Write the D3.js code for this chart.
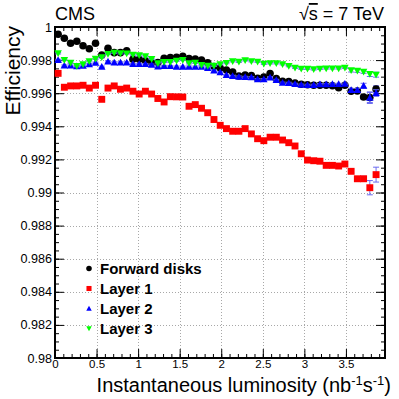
<!DOCTYPE html>
<html><head><meta charset="utf-8">
<script src="https://d3js.org/d3.v7.min.js"></script>
<style>body{margin:0;background:#fff}svg{display:block;font-family:"Liberation Sans",Arial,Helvetica,sans-serif}</style>
</head><body><svg id="c" width="399" height="399"></svg>
<script>
// ---- data ----
const binCenters = [0.0375,0.1125,0.1875,0.2625,0.3375,0.4125,0.4875,0.5625,0.6375,0.7125,0.7875,0.8625,0.9375,1.0125,1.0875,1.1625,1.2375,1.3125,1.3875,1.4625,1.5375,1.6125,1.6875,1.7625,1.8375,1.9125,1.9875,2.0625,2.1375,2.2125,2.2875,2.3625,2.4375,2.5125,2.5875,2.6625,2.7375,2.8125,2.8875,2.9625,3.0375,3.1125,3.1875,3.2625,3.3375,3.4125,3.4875,3.5625,3.6375,3.7125,3.7875,3.8625];
const forwardDisks = [0.99956,0.99932,0.99902,0.99914,0.99887,0.99869,0.99902,0.99831,0.99871,0.99845,0.99845,0.99857,0.99805,0.99805,0.99796,0.99784,0.99785,0.99811,0.99815,0.99817,0.99823,0.99810,0.99807,0.99801,0.99784,0.99761,0.99752,0.99740,0.99728,0.99704,0.99710,0.99706,0.99690,0.99698,0.99719,0.99688,0.99672,0.99670,0.99662,0.99654,0.99651,0.99648,0.99648,0.99648,0.99645,0.99633,0.99648,0.99612,0.99613,0.99577,0.99574,0.99625];
const layer1 = [0.99720,0.99636,0.99644,0.99644,0.99648,0.99631,0.99648,0.99563,0.99631,0.99644,0.99624,0.99631,0.99612,0.99595,0.99612,0.99595,0.99568,0.99547,0.99579,0.99578,0.99577,0.99521,0.99531,0.99509,0.99482,0.99441,0.99406,0.99386,0.99370,0.99370,0.99386,0.99354,0.99325,0.99313,0.99334,0.99334,0.99317,0.99301,0.99281,0.99234,0.99196,0.99192,0.99189,0.99164,0.99164,0.99160,0.99172,0.99128,0.99083,0.99083,0.99029,0.99108];
const layer2 = [0.99801,0.99767,0.99767,0.99763,0.99766,0.99775,0.99784,0.99760,0.99792,0.99786,0.99786,0.99786,0.99776,0.99776,0.99776,0.99772,0.99761,0.99764,0.99764,0.99760,0.99760,0.99760,0.99760,0.99760,0.99752,0.99737,0.99726,0.99710,0.99704,0.99700,0.99698,0.99696,0.99684,0.99684,0.99695,0.99680,0.99663,0.99662,0.99656,0.99651,0.99650,0.99650,0.99654,0.99654,0.99656,0.99656,0.99657,0.99619,0.99619,0.99645,0.99573,0.99601];
const layer3 = [0.99841,0.99801,0.99784,0.99764,0.99775,0.99793,0.99808,0.99817,0.99837,0.99845,0.99841,0.99840,0.99833,0.99829,0.99823,0.99807,0.99781,0.99789,0.99789,0.99796,0.99801,0.99781,0.99784,0.99770,0.99766,0.99766,0.99775,0.99782,0.99793,0.99790,0.99799,0.99793,0.99790,0.99778,0.99781,0.99781,0.99775,0.99764,0.99754,0.99748,0.99748,0.99744,0.99748,0.99750,0.99750,0.99750,0.99754,0.99738,0.99736,0.99730,0.99716,0.99712];
// uncertainties (only the last bins are visibly larger than the markers)
const errForward = [0,0,0,0,0,0,0,0,0,0,0,0,0,0,0,0,0,0,0,0,0,0,0,0,0,0,0,0,0,0,0,0,0,0,0,0,0,0,0,0,0,0,0,0,0,0,0,0.0001,0.0001,0.00015,0.0003,0.0002];
const errLayer1 = [0,0,0,0,0,0,0,0,0,0,0,0,0,0,0,0,0,0,0,0,0,0,0,0,0,0,0,0,0,0,0,0,0,0,0,0,0,0,0,0,0,0,0,0,0,0,0,0.0001,0.0001,0.00015,0.00043,0.00045];
const errLayer2 = [0,0,0,0,0,0,0,0,0,0,0,0,0,0,0,0,0,0,0,0,0,0,0,0,0,0,0,0,0,0,0,0,0,0,0,0,0,0,0,0,0,0,0,0,0,0,0,0.0001,0.0001,0.00015,0.00035,0.0002];
const errLayer3 = [0,0,0,0,0,0,0,0,0,0,0,0,0,0,0,0,0,0,0,0,0,0,0,0,0,0,0,0,0,0,0,0,0,0,0,0,0,0,0,0,0,0,0,0,0,0,0,0.0001,0.0001,0.0001,0.00015,0.00015];
const seriesNames = ["Forward disks","Layer 1","Layer 2","Layer 3"];
const seriesColors = ["#000000","#ff0000","#0000ff","#00ff00"];
const seriesShapes = ["circle","square","triangleUp","triangleDown"];
const xTickValues = [0,0.5,1,1.5,2,2.5,3,3.5];
const xTickLabels = ["0","0.5","1","1.5","2","2.5","3","3.5"];
const yTickValues = [0.98,0.982,0.984,0.986,0.988,0.99,0.992,0.994,0.996,0.998,1];
const yTickLabels = ["0.98","0.982","0.984","0.986","0.988","0.99","0.992","0.994","0.996","0.998","1"];

const allValues = [forwardDisks, layer1, layer2, layer3];
const allErrors = [errForward, errLayer1, errLayer2, errLayer3];

// ---- layout ----
const L = 55, R = 385, T = 27, B = 358;
const x = d3.scaleLinear().domain([0, 3.97]).range([L, R]);
const y = d3.scaleLinear().domain([0.98, 1.0]).range([B, T]);
const svg = d3.select("#c");

// grid
const gGrid = svg.append("g").attr("stroke", "#a8a8a8").attr("stroke-width", 1).attr("stroke-dasharray", "1,2");
gGrid.selectAll("line.vx").data(xTickValues.filter(v => v > 0)).enter().append("line")
  .attr("x1", d => Math.round(x(d)) + 0.5).attr("x2", d => Math.round(x(d)) + 0.5).attr("y1", T).attr("y2", B);
gGrid.selectAll("line.hy").data(yTickValues.filter(v => v > 0.98 && v < 1)).enter().append("line")
  .attr("y1", d => Math.round(y(d)) + 0.5).attr("y2", d => Math.round(y(d)) + 0.5).attr("x1", L).attr("x2", R);

// axes (ticks inside on all four sides)
const xMinor = d3.range(0, 3.97, 0.1);
const yMinor = d3.range(0.98, 1.00001, 0.0005);
function tickAxis(axisGen, tr, size) {
  svg.append("g").attr("transform", tr).call(axisGen.tickSize(size).tickFormat(""))
    .call(g => g.select(".domain").remove())
    .call(g => g.selectAll("line").attr("stroke", "#000").attr("stroke-width", 1));
}
tickAxis(d3.axisTop(x).tickValues(xMinor), `translate(0,${B})`, 4);
tickAxis(d3.axisTop(x).tickValues(xTickValues), `translate(0,${B})`, 9);
tickAxis(d3.axisBottom(x).tickValues(xMinor), `translate(0,${T})`, 4);
tickAxis(d3.axisBottom(x).tickValues(xTickValues), `translate(0,${T})`, 9);
tickAxis(d3.axisRight(y).tickValues(yMinor), `translate(${L},0)`, 4);
tickAxis(d3.axisRight(y).tickValues(yTickValues), `translate(${L},0)`, 9);
tickAxis(d3.axisLeft(y).tickValues(yMinor), `translate(${R},0)`, 4);
tickAxis(d3.axisLeft(y).tickValues(yTickValues), `translate(${R},0)`, 9);

// tick labels via axes
svg.append("g").attr("transform", `translate(0,${B})`)
  .call(d3.axisBottom(x).tickValues(xTickValues).tickSize(0).tickPadding(2).tickFormat((d, i) => xTickLabels[i]))
  .call(g => g.select(".domain").remove())
  .call(g => g.selectAll("text").attr("font-size", 11.5).attr("fill", "#000").attr("font-family", "Liberation Sans, Arial, sans-serif"));
svg.append("g").attr("transform", `translate(${L},0)`)
  .call(d3.axisLeft(y).tickValues(yTickValues).tickSize(0).tickPadding(3).tickFormat((d, i) => yTickLabels[i]))
  .call(g => g.select(".domain").remove())
  .call(g => g.selectAll("text").attr("font-size", 12.6).attr("fill", "#000").attr("font-family", "Liberation Sans, Arial, sans-serif"));

// frame
svg.append("rect").attr("x", L).attr("y", T).attr("width", R - L).attr("height", B - T)
  .attr("fill", "none").attr("stroke", "#000").attr("stroke-width", 2);

// marker symbol generators
function symbolPath(shape, s) {
  if (shape === "circle") return d3.symbol(d3.symbolCircle, s * s * 0.8)();
  if (shape === "square") return d3.symbol(d3.symbolSquare, s * s * 0.85)();
  const h = s * 0.5;
  if (shape === "triangleUp") return `M0,${-h}L${h},${h * 0.8}L${-h},${h * 0.8}Z`;
  return `M0,${h}L${h},${-h * 0.8}L${-h},${-h * 0.8}Z`;
}

// data: error bars then markers (drawn in order)
allValues.forEach((vals, k) => {
  const g = svg.append("g");
  const errs = allErrors[k];
  const pts = vals.map((v, i) => ({ x: binCenters[i], v, e: errs[i] }));
  const eg = g.append("g").attr("stroke", "#6a6af0").attr("stroke-width", 1);
  pts.forEach(p => {
    const e = Math.max(p.e, 0.00004);
    eg.append("line").attr("x1", x(p.x)).attr("x2", x(p.x)).attr("y1", y(p.v - e)).attr("y2", y(p.v + e));
    eg.append("line").attr("x1", x(p.x) - 3).attr("x2", x(p.x) + 3).attr("y1", y(p.v - e)).attr("y2", y(p.v - e));
    eg.append("line").attr("x1", x(p.x) - 3).attr("x2", x(p.x) + 3).attr("y1", y(p.v + e)).attr("y2", y(p.v + e));
  });
  g.selectAll("path.m").data(pts).enter().append("path")
    .attr("d", symbolPath(seriesShapes[k], 7.5))
    .attr("transform", d => `translate(${x(d.x)},${y(d.v)})`)
    .attr("fill", seriesColors[k]);
});

// legend
const legY = [268.5, 288.5, 308.5, 328.5];
seriesNames.forEach((name, k) => {
  svg.append("path").attr("d", symbolPath(seriesShapes[k], 5.5))
    .attr("transform", `translate(89,${legY[k]})`).attr("fill", seriesColors[k]);
  svg.append("text").attr("x", 100).attr("y", legY[k] + 5.5).attr("font-size", 15).attr("font-weight", "bold")
    .attr("fill", "#000").text(name);
});

// titles
svg.append("text").attr("x", 55).attr("y", 20).attr("font-size", 18).text("CMS");
const sq = svg.append("text").attr("x", 384).attr("y", 20).attr("font-size", 18).attr("text-anchor", "end");
sq.append("tspan").text("√");
sq.append("tspan").attr("style", "text-decoration: overline").text("s");
sq.append("tspan").text(" = 7 TeV");

svg.append("text").attr("transform", `translate(20,${T - 1}) rotate(-90)`).attr("text-anchor", "end")
  .attr("font-size", 21).text("Efficiency");

const xt = svg.append("text").attr("x", 391).attr("y", 392).attr("text-anchor", "end").attr("font-size", 20);
xt.append("tspan").text("Instantaneous luminosity (nb");
xt.append("tspan").attr("dy", -7).attr("font-size", 13).text("-1");
xt.append("tspan").attr("dy", 7).text("s");
xt.append("tspan").attr("dy", -7).attr("font-size", 13).text("-1");
xt.append("tspan").attr("dy", 7).text(")");
</script></body></html>
